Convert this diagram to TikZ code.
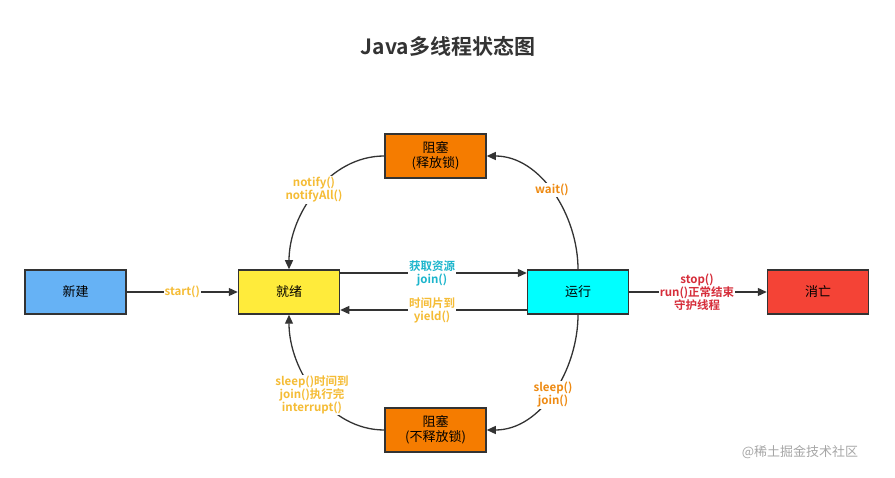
\documentclass[tikz,border=0pt]{standalone}
\usepackage{fontspec}
\setmainfont{Noto Sans CJK SC}[BoldFont={Noto Sans CJK SC Bold}]
\usetikzlibrary{arrows.meta}
\definecolor{cBlue}{HTML}{66B2F5}
\definecolor{cYel}{HTML}{FFEB3B}
\definecolor{cCyan}{HTML}{00FFFF}
\definecolor{cRed}{HTML}{F44336}
\definecolor{cOr}{HTML}{F57C00}
\definecolor{tYel}{HTML}{F5BC35}
\definecolor{tCyan}{HTML}{1CB5CC}
\definecolor{tOr}{HTML}{EE8A12}
\definecolor{tRed}{HTML}{D62D3A}
\definecolor{ln}{HTML}{333333}
\begin{document}
\begin{tikzpicture}[x=1pt,y=-1pt,
  box/.style={draw=ln,line width=1.5pt,minimum width=101pt,minimum height=44pt,font=\fontsize{13}{15}\selectfont,align=center,inner sep=0pt},
  conn/.style={draw=ln,line width=1.3pt,-{Triangle[length=9pt,width=8pt]}},
  lab/.style={font=\bfseries\fontsize{11.5}{13}\selectfont,align=center,fill=white,inner sep=1pt}]
\useasboundingbox (0,0) rectangle (895,478);
\node[font=\bfseries\fontsize{21}{24}\selectfont,text=ln] (title) at (448,46) {Java多线程状态图};
\node[box,fill=cBlue] (new) at (75.5,292) {新建};
\node[box,fill=cYel] (ready) at (289,292) {就绪};
\node[box,fill=cCyan] (run) at (578,292) {运行};
\node[box,fill=cRed] (dead) at (818,292) {消亡};
\node[box,fill=cOr] (b1) at (435.5,156) {阻塞\\(释放锁)};
\node[box,fill=cOr] (b2) at (435.5,430) {阻塞\\(不释放锁)};
\draw[conn] (new) -- (ready) node[lab,midway,text=tYel] {start()};
\draw[conn] ([yshift=19pt]ready.east) -- ([yshift=19pt]run.west);
\draw[conn] ([yshift=-18pt]run.west) -- ([yshift=-18pt]ready.east);
\node[lab,text=tCyan] (l1) at (432,273) {获取资源\\join()};
\node[lab,text=tYel] (l2) at (432,310) {时间片到\\yield()};
\draw[conn] (run.east) -- (dead.west);
\node[lab,text=tRed] (l3) at (697,292) {stop()\\run()正常结束\\守护线程};
\draw[conn] (b1.west) to[out=180,in=90,looseness=0.95] (ready.north);
\draw[conn] (run.north) to[out=90,in=0,looseness=0.95] (b1.east);
\draw[conn] (run.south) to[out=-90,in=0,looseness=0.95] (b2.east);
\draw[conn] (b2.west) to[out=180,in=-90,looseness=0.95] (ready.south);
\node[lab,text=tYel] (l4) at (314,190) {notify()\\notifyAll()};
\node[lab,text=tOr] (l5) at (552,190) {wait()};
\node[lab,text=tOr] (l6) at (553,395) {sleep()\\join()};
\node[lab,text=tYel] (l7) at (312,395) {sleep()时间到\\join()执行完\\interrupt()};
\node[font=\fontsize{13}{15}\selectfont,text=gray!70] (wm) at (800,452) {@稀土掘金技术社区};
\end{tikzpicture}
\end{document}
